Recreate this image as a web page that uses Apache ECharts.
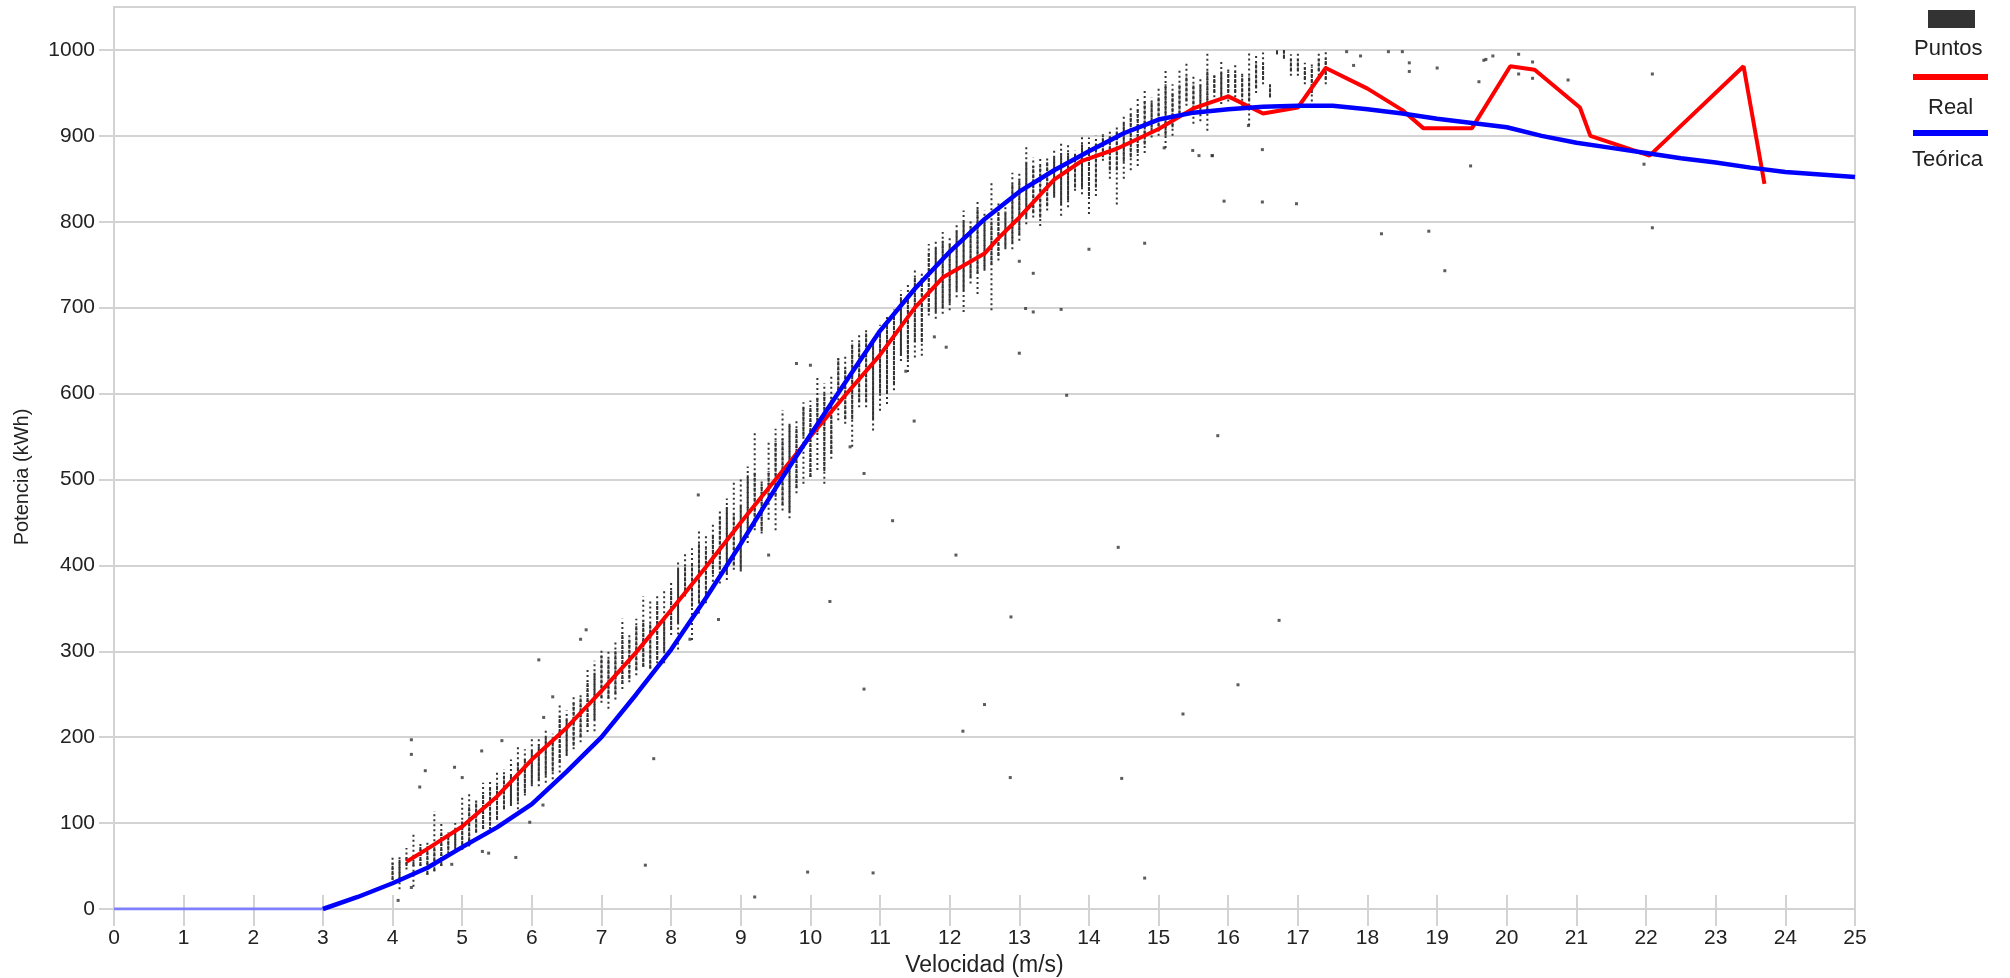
<!DOCTYPE html>
<html>
<head>
<meta charset="utf-8">
<title>Curva de potencia</title>
<script src="https://cdn.jsdelivr.net/npm/echarts@6/dist/echarts.min.js"></script>
<style>
html, body { margin: 0; padding: 0; background: #fff; }
#chart { width: 2010px; height: 978px; }
</style>
</head>
<body>
<div id="chart"></div>
<script>
var chart = echarts.init(document.getElementById("chart"));

// eje Y
var yTicks = [0, 100, 200, 300, 400, 500, 600, 700, 800, 900, 1000];

// curva teorica (azul)
var teoX = [0, 1, 2, 3, 3.5, 4, 4.5, 5, 5.5, 6, 6.5, 7, 7.5, 8, 8.5, 9, 9.5, 10, 10.5, 11, 11.5, 12, 12.5, 13,
    13.5, 14, 14.5, 15, 15.5, 16, 16.5, 17, 17.5, 18, 18.5, 19, 19.5, 20, 20.5, 21, 21.5, 22, 22.5, 23, 23.5, 24, 24.5, 25];
var teoY = [0, 0, 0, 0, 14, 30, 48, 72, 95, 122, 160, 200, 250, 302, 362, 425, 490, 552, 613, 673, 722, 765, 803, 835,
    860, 882, 903, 919, 927, 931, 934, 935, 935, 931, 926, 920, 915, 910, 900, 892, 886, 880, 874, 869, 863, 858, 855, 852];

// curva real (roja)
var realX = [4.2, 4.5, 5, 5.5, 6, 6.5, 7, 7.5, 8, 8.5, 9, 9.5, 10, 10.5, 11, 11.5, 11.9, 12.5, 12.7, 13, 13.5, 13.9,
    14.4, 15, 15.5, 16, 16.5, 17, 17.4, 18, 18.5, 18.8, 19.5, 20.05, 20.4, 21.05, 21.2, 22.05, 23.4, 23.7];
var realY = [55, 70, 96, 131, 174, 211, 254, 299, 348, 398, 450, 500, 550, 598, 645, 700, 735, 763, 781, 805, 849, 871,
    885, 908, 932, 946, 926, 933, 979, 955, 930, 909, 909, 981, 977, 933, 900, 877, 981, 844];

// columnas de puntos: velocidad, rango total y rango denso
var stripX = [4.0, 4.1, 4.2, 4.3, 4.4, 4.5, 4.6, 4.7, 4.8, 4.9, 5.0, 5.1, 5.2, 5.3, 5.4, 5.5, 5.6, 5.7, 5.8, 5.9,
    6.0, 6.1, 6.2, 6.3, 6.4, 6.5, 6.6, 6.7, 6.8, 6.9, 7.0, 7.1, 7.2, 7.3, 7.4, 7.5, 7.6, 7.7, 7.8, 7.9,
    8.0, 8.1, 8.2, 8.3, 8.4, 8.5, 8.6, 8.7, 8.8, 8.9, 9.0, 9.1, 9.2, 9.3, 9.4, 9.5, 9.6, 9.7, 9.8, 9.9,
    10.0, 10.1, 10.2, 10.3, 10.4, 10.5, 10.6, 10.7, 10.8, 10.9, 11.0, 11.1, 11.2, 11.3, 11.4, 11.5, 11.6, 11.7, 11.8, 11.9,
    12.0, 12.1, 12.2, 12.3, 12.4, 12.5, 12.6, 12.7, 12.8, 12.9, 13.0, 13.1, 13.2, 13.3, 13.4, 13.5, 13.6, 13.7, 13.8, 13.9,
    14.0, 14.1, 14.2, 14.3, 14.4, 14.5, 14.6, 14.7, 14.8, 14.9, 15.0, 15.1, 15.2, 15.3, 15.4, 15.5, 15.6, 15.7, 15.8, 15.9,
    16.0, 16.1, 16.2, 16.3, 16.4, 16.5, 16.6, 16.7, 16.8, 16.9, 17.0, 17.1, 17.2, 17.3, 17.4];
var stripLo = [34, 23, 46, 26, 50, 40, 44, 50, 65, 69, 69, 73, 89, 93, 93, 104, 116, 120, 116, 132,
    143, 143, 147, 151, 159, 178, 186, 194, 206, 207, 240, 233, 244, 256, 264, 272, 282, 280, 286, 286,
    319, 302, 364, 313, 344, 356, 375, 379, 383, 395, 393, 426, 441, 437, 453, 441, 464, 455, 484, 495,
    503, 511, 495, 524, 569, 565, 538, 584, 584, 557, 580, 588, 604, 638, 625, 642, 644, 691, 687, 693,
    697, 712, 695, 728, 716, 743, 697, 755, 768, 768, 778, 797, 805, 795, 813, 828, 807, 817, 836, 832,
    809, 830, 871, 850, 820, 850, 860, 865, 880, 898, 900, 886, 900, 921, 935, 914, 917, 906, 945, 937,
    940, 945, 935, 912, 950, 960, 945, 995, 990, 970, 970, 960, 940, 970, 960];
var stripHi = [63, 61, 71, 87, 77, 77, 114, 102, 89, 100, 130, 137, 128, 147, 151, 159, 163, 174, 190, 186,
    200, 198, 209, 204, 237, 231, 250, 252, 281, 289, 303, 301, 311, 338, 322, 338, 364, 358, 366, 373,
    381, 406, 416, 420, 441, 437, 449, 466, 478, 497, 501, 515, 557, 501, 544, 559, 581, 565, 569, 590,
    592, 619, 612, 623, 641, 645, 662, 668, 674, 666, 680, 690, 698, 720, 728, 745, 743, 774, 778, 788,
    782, 797, 813, 803, 824, 813, 846, 824, 817, 857, 859, 888, 875, 875, 877, 884, 892, 892, 883, 902,
    898, 900, 902, 905, 910, 925, 935, 945, 955, 945, 958, 978, 960, 979, 985, 972, 966, 997, 974, 989,
    980, 985, 975, 997, 995, 997, 960, 1000, 1000, 995, 997, 985, 985, 998, 998];
var coreLo = [34, 36, 50, 50, 50, 40, 44, 50, 68, 71, 69, 73, 89, 93, 97, 104, 116, 122, 125, 135,
    145, 150, 155, 160, 170, 180, 190, 200, 212, 220, 245, 245, 250, 262, 268, 278, 282, 280, 290, 300,
    325, 333, 364, 352, 356, 360, 390, 395, 390, 400, 395, 440, 445, 440, 480, 480, 470, 462, 490, 550,
    503, 555, 510, 530, 604, 570, 570, 590, 590, 570, 600, 600, 610, 645, 640, 660, 660, 695, 695, 700,
    705, 720, 720, 735, 740, 745, 750, 760, 770, 775, 785, 805, 810, 805, 818, 830, 820, 825, 840, 840,
    830, 840, 875, 860, 860, 870, 875, 880, 890, 905, 905, 900, 910, 925, 940, 925, 925, 930, 950, 945,
    950, 950, 945, 940, 955, 965, 945, 995, 990, 975, 975, 965, 950, 975, 965];
var coreHi = [54, 57, 61, 56, 73, 73, 73, 89, 85, 93, 102, 120, 125, 135, 140, 145, 155, 157, 170, 175,
    185, 192, 200, 198, 225, 222, 240, 245, 265, 275, 295, 292, 300, 322, 315, 330, 336, 333, 356, 340,
    371, 396, 400, 402, 426, 420, 435, 457, 468, 460, 470, 505, 509, 495, 510, 545, 548, 565, 560, 584,
    584, 596, 600, 596, 641, 630, 658, 660, 670, 660, 675, 685, 690, 712, 715, 735, 735, 765, 770, 778,
    775, 790, 800, 795, 815, 805, 800, 815, 812, 845, 850, 870, 865, 865, 870, 875, 880, 880, 878, 890,
    885, 892, 900, 900, 905, 915, 925, 930, 940, 940, 945, 960, 950, 960, 970, 960, 960, 975, 970, 975,
    975, 975, 970, 970, 985, 985, 960, 1000, 1000, 990, 990, 980, 980, 990, 990];

// puntos sueltos
var dotX = [4.27, 4.27, 4.47, 4.39, 4.89, 5.0, 5.28, 5.57, 6.1, 6.17, 6.3, 6.7, 6.78, 7.75, 7.63, 5.77, 5.29, 5.38,
    4.27, 4.08, 5.97, 6.16, 4.85, 8.39, 9.8, 10.0, 9.4, 10.28, 10.77, 8.68, 8.27, 10.57, 10.77, 11.18, 11.49, 12.09,
    11.78, 11.95, 11.37, 13.68, 13.0, 13.2, 13.6, 14.0, 14.8, 13.2, 13.0, 15.77, 16.49, 16.98, 18.2, 18.88, 19.48,
    16.29, 15.49, 15.58, 15.77, 15.08, 16.49, 19.0, 19.6, 19.7, 18.3, 18.5, 18.6, 18.6, 17.8, 17.9, 17.7, 19.67,
    19.8, 20.17, 20.17, 20.37, 20.37, 20.88, 22.09, 21.97, 22.09, 9.96, 10.9, 9.2, 12.19, 12.5, 12.88, 12.87, 14.42,
    14.47, 14.8, 15.35, 15.85, 16.14, 16.73, 13.09, 15.94, 19.11];
var dotY = [197, 180, 161, 142, 165, 153, 184, 196, 290, 223, 247, 314, 325, 175, 51, 60, 67, 65,
    25, 10, 101, 121, 52, 482, 635, 633, 412, 358, 256, 337, 314, 538, 507, 452, 568, 412,
    666, 654, 626, 598, 647, 695, 698, 768, 775, 740, 754, 877, 823, 821, 786, 789, 865,
    912, 883, 877, 877, 886, 884, 979, 963, 989, 998, 998, 975, 985, 982, 993, 998, 988,
    993, 995, 972, 986, 967, 965, 972, 867, 793, 43, 42, 14, 207, 238, 340, 153, 421,
    152, 36, 227, 551, 261, 336, 699, 824, 743];

var stripData = stripX.map(function (x, i) {
    return [x, stripLo[i], stripHi[i], coreLo[i], coreHi[i]];
});
var dotData = dotX.map(function (x, i) { return [x, dotY[i]]; });
var realData = realX.map(function (x, i) { return [x, realY[i]]; });
var teoData = teoX.map(function (x, i) { return [x, teoY[i]]; });

function renderStrip(params, api) {
    var x = api.value(0);
    var a = api.coord([x, api.value(1)]);
    var b = api.coord([x, api.value(2)]);
    var c = api.coord([x, api.value(3)]);
    var d = api.coord([x, api.value(4)]);
    return {
        type: "group",
        children: [
            {type: "line", shape: {x1: a[0], y1: a[1], x2: b[0], y2: b[1]},
             style: {stroke: "#333", lineWidth: 2, lineDash: [2, 3]}},
            {type: "line", shape: {x1: c[0], y1: c[1], x2: d[0], y2: d[1]},
             style: {stroke: "#333", lineWidth: 2, lineDash: [4, 1]}}
        ]
    };
}

var gris = "#d3d3d3";
var fuente = "Liberation Sans, Arial, sans-serif";

var option = {
    animation: false,
    backgroundColor: "#fff",
    textStyle: {fontFamily: fuente},
    grid: {left: 114, right: 155, top: 7, bottom: 69, outerBoundsMode: "none",
           show: true, borderColor: gris, borderWidth: 2},
    legend: [
        {left: 1928, top: 10, padding: 0, itemWidth: 47, itemHeight: 18, formatter: function () { return ""; },
         selectedMode: false, data: [{name: "Puntos", icon: "rect", itemStyle: {color: "#333"}}]},
        {left: 1913, top: 74, padding: 0, itemWidth: 75, itemHeight: 6, formatter: function () { return ""; },
         selectedMode: false, data: [{name: "Real", icon: "rect", itemStyle: {color: "#ff0000"}}]},
        {left: 1913, top: 130, padding: 0, itemWidth: 75, itemHeight: 6, formatter: function () { return ""; },
         selectedMode: false, data: [{name: "Teórica", icon: "rect", itemStyle: {color: "#0000ff"}}]}
    ],
    graphic: [
        {type: "text", left: 1950 - 36, top: 38, style: {text: "Puntos", font: "22px " + fuente, fill: "#222"}},
        {type: "text", left: 1950 - 22, top: 97, style: {text: "Real", font: "22px " + fuente, fill: "#222"}},
        {type: "text", left: 1950 - 38, top: 149, style: {text: "Teórica", font: "22px " + fuente, fill: "#222"}}
    ],
    xAxis: [{
        type: "value", min: 0, max: 25, interval: 1,
        name: "Velocidad (m/s)", nameLocation: "middle", nameGap: 44,
        nameTextStyle: {fontSize: 23, color: "#222"},
        axisLine: {lineStyle: {color: gris, width: 2}},
        axisTick: {length: 17, lineStyle: {color: gris, width: 2}},
        axisLabel: {fontSize: 21, color: "#222", margin: 19},
        splitLine: {show: false}
    }, {
        type: "value", min: 0, max: 25, interval: 1, position: "bottom",
        axisLine: {show: false},
        axisTick: {inside: true, length: 14, lineStyle: {color: gris, width: 2}},
        axisLabel: {show: false},
        splitLine: {show: false}
    }],
    yAxis: {
        type: "value", min: 0, max: 1050,
        name: "Potencia (kWh)", nameLocation: "middle", nameGap: 82,
        nameTextStyle: {fontSize: 20, color: "#222", padding: [0, 38, 0, 0]},
        axisLine: {show: true, lineStyle: {color: gris, width: 2}},
        axisTick: {show: true, length: 15, customValues: yTicks, lineStyle: {color: gris, width: 2}},
        axisLabel: {fontSize: 21, color: "#222", margin: 19, customValues: yTicks,
                    formatter: function (v) { return String(v); }},
        splitLine: {lineStyle: {color: gris, width: 2}}
    },
    series: [
        {name: "Puntos", type: "custom", renderItem: renderStrip, data: stripData,
         encode: {x: 0, y: [1, 2]}, itemStyle: {color: "#333"}, z: 2},
        {name: "Puntos", type: "scatter", data: dotData, symbol: "rect", symbolSize: 3,
         itemStyle: {color: "#333"}, z: 2},
        {name: "Teórica", type: "line", data: teoData.slice(0, 4), showSymbol: false,
         lineStyle: {color: "#8080ff", width: 3}, itemStyle: {color: "#0000ff"}, z: 3},
        {name: "Real", type: "line", data: realData, showSymbol: false,
         lineStyle: {color: "#ff0000", width: 4}, itemStyle: {color: "#ff0000"}, z: 4},
        {name: "Teórica", type: "line", data: teoData.slice(3), showSymbol: false,
         lineStyle: {color: "#0000ff", width: 4.5}, itemStyle: {color: "#0000ff"}, z: 5}
    ]
};

chart.setOption(option);
</script>
</body>
</html>
